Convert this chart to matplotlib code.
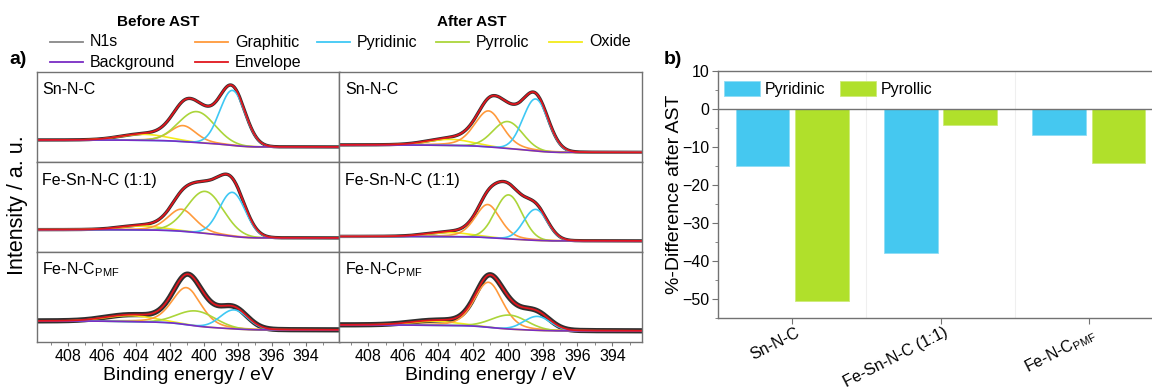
import numpy as np
import matplotlib.pyplot as plt
from matplotlib.lines import Line2D
import matplotlib.transforms as mtransforms

plt.rcParams['font.family'] = ['Liberation Sans', 'DejaVu Sans']
plt.rcParams['mathtext.fontset'] = 'custom'
plt.rcParams['mathtext.rm'] = 'Liberation Sans'

# sample names (same order in both panels)
samples = ['Sn-N-C', 'Fe-Sn-N-C (1:1)', 'Fe-N-C$_{\\mathregular{PMF}}$']

# N1s fit components: [centre eV, height above background, FWHM eV]
graphitic_before = [[401.2, 16, 1.8], [401.3, 22, 1.9], [401.0, 37, 2.0]]
pyridinic_before = [[398.3, 55, 1.75], [398.3, 44, 1.8], [398.2, 19, 1.9]]
pyrrolic_before = [[400.4, 31, 2.5], [399.9, 42, 2.5], [400.4, 15, 2.6]]
oxide_before = [[403.5, 6, 3.2], [403.6, 4, 3.0], [404.3, 6, 3.4]]
# Shirley background levels [high BE side, low BE side]
background_before = [[22, 15], [22.3, 14], [21, 12]]

graphitic_after = [[401.1, 36, 1.9], [401.15, 33, 1.7], [401.1, 45, 1.9]]
pyridinic_after = [[398.4, 52, 1.7], [398.4, 31, 1.6], [398.3, 14, 1.8]]
pyrrolic_after = [[400.0, 27, 2.0], [399.95, 44, 1.8], [399.9, 14, 2.4]]
oxide_after = [[403.3, 6, 3.0], [403.3, 4, 3.0], [404.2, 4, 3.2]]
background_after = [[17, 9.5], [15.5, 11], [17, 11]]

# lorentzian fraction of the line shape for each component
mix = {'Graphitic': 0.3, 'Pyridinic': 0.0, 'Pyrrolic': 0.0, 'Oxide': 0.0}

# bar chart: % difference after AST
pyridinic_diff = [-15.0, -37.8, -6.8]
pyrrolic_diff = [-50.4, -4.1, -14.3]

colors = {'N1s': '#303030', 'Graphitic': '#FF9A3C', 'Pyridinic': '#3FC8F4',
          'Pyrrolic': '#ABD53A', 'Oxide': '#F2EA1A', 'Background': '#7A2CC4',
          'Envelope': '#E0161E'}
bar_blue = '#45C8F0'
bar_green = '#B0E02B'
frame = '#727272'


def peak(E, c, h, w, m):
    x = (E - c) / w
    return h * ((1 - m) * np.exp(-4 * np.log(2) * x ** 2) + m / (1 + 4 * x ** 2))


def draw_panel(ax, fits, bg, noise_lw):
    E = np.linspace(391, 411, 1000)
    peaks = {k: peak(E, *fits[k], mix[k]) for k in fits}
    total = sum(peaks.values())
    # shirley type background: step follows the integrated peak area
    area = np.cumsum(total)
    area = area / area[-1]
    back = bg[1] + (bg[0] - bg[1]) * area
    env = back + total
    ax.plot(E, env, color=colors['N1s'], lw=noise_lw, solid_capstyle='butt')
    for k in ['Oxide', 'Graphitic', 'Pyrrolic', 'Pyridinic']:
        ax.plot(E, back + peaks[k], color=colors[k], lw=1.2)
    ax.plot(E, back, color=colors['Background'], lw=1.2)
    ax.plot(E, env, color=colors['Envelope'], lw=1.3)


fig = plt.figure(figsize=(11.52, 3.9), dpi=100)
gs = fig.add_gridspec(3, 2, left=37 / 1152, right=642 / 1152, top=1 - 72 / 390,
                      bottom=1 - 342 / 390, hspace=0, wspace=0)

sets = [
    (graphitic_before, pyridinic_before, pyrrolic_before, oxide_before, background_before, (409.8, 392.0)),
    (graphitic_after, pyridinic_after, pyrrolic_after, oxide_after, background_after, (409.65, 392.3)),
]
noise = [2.4, 2.4, 3.8]

for col, (gr, py, pr, ox, bg, xl) in enumerate(sets):
    for row in range(3):
        ax = fig.add_subplot(gs[row, col])
        fits = {'Graphitic': gr[row], 'Pyridinic': py[row], 'Pyrrolic': pr[row], 'Oxide': ox[row]}
        draw_panel(ax, fits, bg[row], noise[row])
        ax.set_xlim(*xl)
        ax.set_ylim(0, 90)
        ax.set_yticks([])
        for s in ax.spines.values():
            s.set_color(frame)
            s.set_linewidth(1.0)
        ax.set_xticks(np.arange(394, 409, 2))
        ax.set_xticks(np.arange(393, 410, 2), minor=True)
        ax.tick_params(axis='x', which='both', direction='out', color=frame,
                       labelsize=11.5, pad=2)
        ax.tick_params(axis='x', which='major', length=3)
        ax.tick_params(axis='x', which='minor', length=2)
        if row < 2:
            ax.tick_params(axis='x', which='both', bottom=False, labelbottom=False)
        else:
            ax.set_xlabel('Binding energy / eV', fontsize=14, labelpad=2)
        ax.text(0.018, 0.8, samples[row], transform=ax.transAxes, fontsize=11.5,
                va='center', ha='left')

# legend for the spectra, placed by hand like the original
fig.text(158 / 1152, 1 - 22 / 390, 'Before AST', fontsize=11, fontweight='bold',
         ha='center', va='center')
fig.text(472 / 1152, 1 - 22 / 390, 'After AST', fontsize=11, fontweight='bold',
         ha='center', va='center')
entries = [('N1s', 50, 42), ('Graphitic', 195, 42), ('Pyridinic', 317, 42),
           ('Pyrrolic', 436, 42), ('Oxide', 549, 42), ('Background', 50, 62),
           ('Envelope', 195, 62)]
for name, x0, y0 in entries:
    yy = 1 - y0 / 390
    c = '#888888' if name == 'N1s' else colors[name]
    fig.add_artist(Line2D([x0 / 1152, (x0 + 33) / 1152], [yy, yy], color=c, lw=1.3,
                          transform=fig.transFigure))
    fig.text((x0 + 40) / 1152, yy, name, fontsize=11.5, va='center', ha='left')

fig.text(18 / 1152, 1 - 60 / 390, 'a)', fontsize=14, fontweight='bold', ha='center', va='center')
fig.text(18 / 1152, 1 - 205 / 390, 'Intensity / a. u.', fontsize=15.5, rotation=90,
         ha='center', va='center')

# ---- bar chart b)
bx = fig.add_axes([718 / 1152, 1 - 318 / 390, (1163 - 718) / 1152, (318 - 71) / 390])
pos = np.arange(len(samples))
bx.bar(pos - 0.2, pyridinic_diff, width=0.36, color=bar_blue, label='Pyridinic',
       edgecolor='#8fdcf5', linewidth=0.6)
bx.bar(pos + 0.2, pyrrolic_diff, width=0.36, color=bar_green, label='Pyrollic',
       edgecolor='#cdeb7a', linewidth=0.6)
bx.axhline(0, color=frame, lw=1.0, zorder=3)
for xs in [0.5, 1.5]:
    bx.axvline(xs, color='#efefef', lw=0.8, zorder=0)
bx.set_xlim(-0.5, 2.5)
bx.set_ylim(-55, 10)
bx.set_yticks(np.arange(-50, 11, 10))
bx.set_yticks(np.arange(-55, 10, 5), minor=True)
bx.set_xticks(pos)
bx.set_xticklabels([])
# rotated category labels, nudged right of the tick like the original
shift = bx.get_xaxis_transform() + mtransforms.ScaledTranslation(10 / 100, -7 / 100, fig.dpi_scale_trans)
for i, name in enumerate(samples):
    bx.text(pos[i], 0, name, transform=shift, rotation=27, ha='right', va='top',
            fontsize=11.5)
for s in bx.spines.values():
    s.set_color(frame)
    s.set_linewidth(1.0)
bx.tick_params(axis='y', which='major', direction='out', length=4, color=frame,
               labelsize=11.5, pad=2)
bx.tick_params(axis='y', which='minor', direction='out', length=2, color=frame)
bx.tick_params(axis='x', direction='out', length=4, color=frame, pad=1)
bx.set_ylabel('%-Difference after AST', fontsize=14)
bx.yaxis.set_label_coords(-0.078, 0.5)
bx.legend(loc='upper left', ncol=2, frameon=False, fontsize=11.5, handlelength=2.25,
          handleheight=1.05, columnspacing=0.9, handletextpad=0.3,
          bbox_to_anchor=(0.0, 0.985), borderaxespad=0.0, borderpad=0.4)
fig.text(673 / 1152, 1 - 60 / 390, 'b)', fontsize=14, fontweight='bold', ha='center', va='center')

fig.savefig('out.png', dpi=100)
